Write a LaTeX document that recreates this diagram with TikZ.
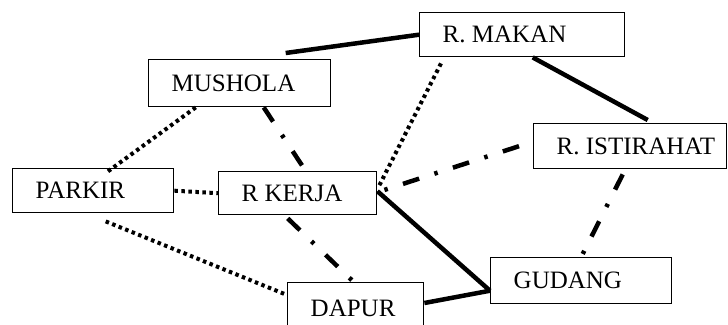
\documentclass[tikz,border=0pt]{standalone}
\usepackage{fontspec}
\setmainfont{Liberation Serif}
\begin{document}
\begin{tikzpicture}[x=1pt,y=-1pt,
  room/.style={draw, line width=1.4pt, inner xsep=23pt, inner ysep=0pt, anchor=north west, font=\fontsize{25}{30}\selectfont},
  solidlink/.style={line width=4.5pt},
  dotlink/.style={line width=4pt, dash pattern=on 3.5pt off 3.5pt},
  dashdotlink/.style={line width=4.5pt, dash pattern=on 17pt off 16pt on 3.5pt off 16pt}]
\useasboundingbox (0,0) rectangle (728,324);
\clip (0,0) rectangle (728,324);
\node[room, minimum width=182pt, minimum height=47pt] (mushola) at (148,59) {\raisebox{-2pt}{\makebox[136pt][l]{MUSHOLA}}};
\node[room, minimum width=205pt, minimum height=44pt] (makan) at (419,12) {\raisebox{-2pt}{\makebox[159pt][l]{R. MAKAN}}};
\node[room, minimum width=193pt, minimum height=45pt] (istirahat) at (533,123) {\raisebox{-2pt}{\makebox[147pt][l]{R. ISTIRAHAT}}};
\node[room, minimum width=161pt, minimum height=44pt] (parkir) at (12,168) {\raisebox{-2pt}{\makebox[115pt][l]{PARKIR}}};
\node[room, minimum width=158pt, minimum height=43pt] (rkerja) at (218,171) {\raisebox{-2pt}{\makebox[112pt][l]{R KERJA}}};
\node[room, minimum width=136pt, minimum height=52pt] (dapur) at (287,282) {\raisebox{-2pt}{\makebox[90pt][l]{DAPUR}}};
\node[room, minimum width=181pt, minimum height=46pt] (gudang) at (490,257) {\raisebox{-2pt}{\makebox[135pt][l]{GUDANG}}};
% solid links
\draw[solidlink] ([xshift=46pt,yshift=6pt]mushola.north) -- (makan.west);
\draw[solidlink] ([xshift=10.5pt]makan.south) -- ([xshift=17.5pt,yshift=3pt]istirahat.north);
\draw[solidlink] ([yshift=2pt]rkerja.east) -- ([yshift=-10pt]gudang.west);
\draw[solidlink] ([yshift=-21pt]dapur.north east) -- ([yshift=-10pt]gudang.west);
% dotted links
\draw[dotlink] ([xshift=22pt,yshift=-6pt]makan.south west) -- ([xshift=2pt,yshift=8pt]rkerja.east);
\draw[dotlink] ([xshift=-44pt]mushola.south) -- ([xshift=12.5pt,yshift=-5pt]parkir.north);
\draw[dotlink] (parkir.east) -- (rkerja.west);
\draw[dotlink] ([xshift=12.5pt,yshift=-8pt]parkir.south) -- ([yshift=-13pt]dapur.north west);
% dash-dot links
\draw[dashdotlink] ([xshift=-14pt]istirahat.west) -- ([yshift=1pt]rkerja.east);
\draw[dashdotlink] ([xshift=-7.5pt,yshift=-5pt]istirahat.south) -- (gudang.north);
\draw[dashdotlink] ([xshift=24pt]mushola.south) -- ([xshift=8pt]rkerja.north);
\draw[dashdotlink] ([xshift=-10pt,yshift=-3pt]rkerja.south) -- ([xshift=-2pt]dapur.north);
\end{tikzpicture}
\end{document}
